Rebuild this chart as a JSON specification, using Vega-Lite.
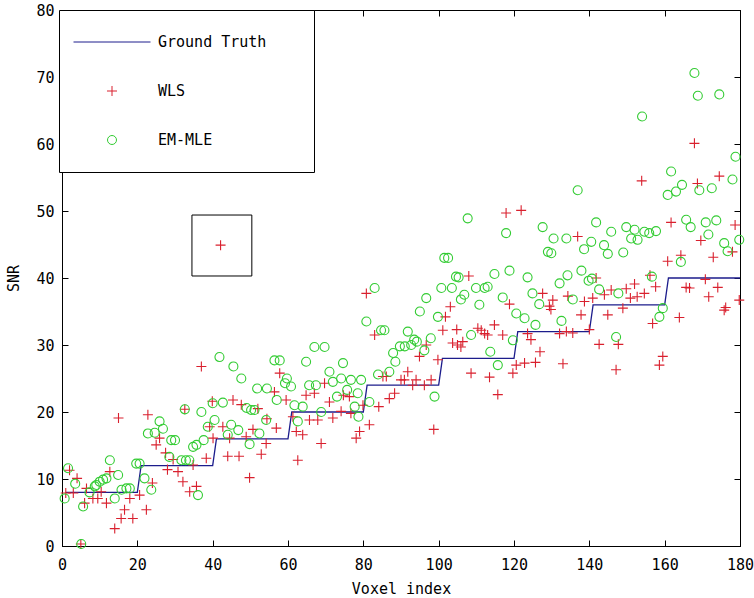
{
  "$schema": "https://vega.github.io/schema/vega-lite/v6.json",
  "autosize": {"type": "none"},
  "width": 678,
  "height": 536,
  "padding": {"left": 62, "top": 10, "right": 14, "bottom": 52},
  "background": "white",
  "datasets": {
    "truth": [
      {"v":1,"snr":8},{"v":20,"snr":8},{"v":21,"snr":12},{"v":40,"snr":12},{"v":41,"snr":16},{"v":60,"snr":16},
      {"v":61,"snr":20},{"v":80,"snr":20},{"v":81,"snr":24},{"v":100,"snr":24},{"v":101,"snr":28},{"v":120,"snr":28},
      {"v":121,"snr":32},{"v":140,"snr":32},{"v":141,"snr":36},{"v":160,"snr":36},{"v":161,"snr":40},{"v":180,"snr":40}
    ],
    "wls": [
      {"v":1,"snr":7.9},{"v":2,"snr":11.3},{"v":3,"snr":7.9},{"v":4,"snr":10.1},{"v":5,"snr":0.3},{"v":6,"snr":6.4},{"v":6.5,"snr":8.6},{"v":8.2,"snr":7.1},{"v":9.5,"snr":7.1},{"v":10.4,"snr":8.1},{"v":11.8,"snr":6.4},{"v":12.7,"snr":11.1},{"v":14,"snr":2.6},{"v":15,"snr":19.1},{"v":15.7,"snr":4.1},{"v":16.6,"snr":5.4},{"v":18,"snr":7.1},{"v":18.8,"snr":4.1},
      {"v":20.6,"snr":7.6},{"v":22.4,"snr":5.4},{"v":22.8,"snr":19.6},{"v":24,"snr":9.4},{"v":25,"snr":15.1},{"v":25.9,"snr":16.1},{"v":27.5,"snr":13.9},{"v":28,"snr":11.4},{"v":29.5,"snr":12.9},{"v":30.8,"snr":11.1},{"v":32.1,"snr":9.6},{"v":32.6,"snr":20.4},{"v":33.9,"snr":8.1},{"v":34.8,"snr":12.1},{"v":35.7,"snr":8.9},{"v":37,"snr":26.8},{"v":38.3,"snr":13.1},{"v":39.2,"snr":17.8},{"v":39.9,"snr":21.6},
      {"v":40.1,"snr":16.1},{"v":42.1,"snr":44.9},{"v":42.7,"snr":17.8},{"v":44,"snr":13.4},{"v":44.5,"snr":16.1},{"v":45.4,"snr":21.8},{"v":47,"snr":13.4},{"v":47.6,"snr":21.1},{"v":48.9,"snr":16.3},{"v":49.8,"snr":10.2},{"v":50.7,"snr":17.4},{"v":52,"snr":20.5},{"v":52.9,"snr":13.7},{"v":54.2,"snr":15.3},{"v":54.4,"snr":19},{"v":56.4,"snr":23},{"v":56.9,"snr":17.6},{"v":57.8,"snr":25.8},{"v":59.5,"snr":21.8},
      {"v":61.3,"snr":19.3},{"v":62.2,"snr":17.1},{"v":62.6,"snr":12.8},{"v":63.9,"snr":16.6},{"v":64.8,"snr":22.5},{"v":65.7,"snr":18.8},{"v":67,"snr":22.8},{"v":67.9,"snr":18.8},{"v":68.8,"snr":15.3},{"v":69.7,"snr":24.3},{"v":71,"snr":21.5},{"v":71.9,"snr":19.1},{"v":74.1,"snr":20.1},{"v":74.7,"snr":22.5},{"v":76.3,"snr":22.3},{"v":76.7,"snr":19.8},{"v":78.1,"snr":16.1},{"v":79,"snr":17.1},{"v":79.9,"snr":21},
      {"v":80.8,"snr":37.7},{"v":81.6,"snr":18.1},{"v":83,"snr":31.5},{"v":84.1,"snr":20.8},{"v":85.2,"snr":25.3},{"v":86.1,"snr":25.3},{"v":86.9,"snr":22},{"v":88.3,"snr":22.8},{"v":90,"snr":24.8},{"v":90.9,"snr":24.8},{"v":91.8,"snr":26},{"v":93.1,"snr":24},{"v":94,"snr":24.8},{"v":94.9,"snr":28.3},{"v":96.2,"snr":24},{"v":96.7,"snr":30},{"v":98,"snr":24.8},{"v":98.7,"snr":17.4},{"v":99.8,"snr":27.8},
      {"v":101.1,"snr":32.2},{"v":101.8,"snr":34.2},{"v":103.1,"snr":35.7},{"v":103.7,"snr":30.3},{"v":104.8,"snr":32.3},{"v":105,"snr":30},{"v":105.9,"snr":29.7},{"v":106.4,"snr":30.5},{"v":108,"snr":40.3},{"v":108.6,"snr":25.8},{"v":110.4,"snr":32.5},{"v":111.3,"snr":32.2},{"v":112.2,"snr":31.7},{"v":113,"snr":31.5},{"v":113.5,"snr":25.2},{"v":114.8,"snr":33},{"v":115.7,"snr":22.6},{"v":117,"snr":31.5},{"v":117.9,"snr":49.7},{"v":118.8,"snr":36.1},{"v":119.7,"snr":25.8},
      {"v":120.6,"snr":27},{"v":121.9,"snr":50.1},{"v":122.8,"snr":27.3},{"v":123.6,"snr":31.7},{"v":124.5,"snr":30.8},{"v":125.7,"snr":27.4},{"v":126.9,"snr":29},{"v":127.6,"snr":37.7},{"v":129.4,"snr":35.8},{"v":129.8,"snr":35.3},{"v":130.3,"snr":36.7},{"v":132.1,"snr":31.7},{"v":133,"snr":27.2},{"v":133.9,"snr":32},{"v":134.3,"snr":37.3},{"v":135.6,"snr":31.8},{"v":136.9,"snr":46.2},{"v":137.8,"snr":34.5},{"v":138.7,"snr":36.5},{"v":140,"snr":32.3},
      {"v":140.9,"snr":37},{"v":141.8,"snr":40},{"v":142.6,"snr":30.1},{"v":144,"snr":37.5},{"v":144.9,"snr":34.5},{"v":145.8,"snr":38.2},{"v":147.1,"snr":26.3},{"v":147.7,"snr":30.1},{"v":148.9,"snr":35.5},{"v":149.8,"snr":38.4},{"v":150.9,"snr":37},{"v":152,"snr":39.1},{"v":152.7,"snr":37.2},{"v":153.9,"snr":54.5},{"v":154.6,"snr":37.7},{"v":156.1,"snr":40.4},{"v":156.8,"snr":33.2},{"v":157.6,"snr":38.7},{"v":158.6,"snr":27},{"v":159.5,"snr":28.3},
      {"v":160.8,"snr":42.5},{"v":161.7,"snr":48.3},{"v":163.9,"snr":34.1},{"v":164.3,"snr":43.4},{"v":165.7,"snr":38.6},{"v":166.6,"snr":38.5},{"v":167.9,"snr":60.1},{"v":168.7,"snr":54.1},{"v":169.6,"snr":45.6},{"v":170.8,"snr":39.8},{"v":171.7,"snr":37.2},{"v":172.9,"snr":43.1},{"v":174.1,"snr":38.6},{"v":174.5,"snr":55.2},{"v":175.8,"snr":35.2},{"v":176.2,"snr":35.6},{"v":178,"snr":43.9},{"v":178.7,"snr":47.9},{"v":179.8,"snr":36.7}
    ],
    "em": [
      {"v":0.7,"snr":7.1},{"v":1.6,"snr":11.6},{"v":3.5,"snr":9.3},{"v":5.1,"snr":0.3},{"v":5.6,"snr":5.9},{"v":7.3,"snr":8},{"v":8.7,"snr":8.9},{"v":9.1,"snr":9.1},{"v":10,"snr":9.6},{"v":10.9,"snr":9.9},{"v":11.8,"snr":10.1},{"v":12.7,"snr":12.8},{"v":14,"snr":7.1},{"v":14.9,"snr":10.6},{"v":15.8,"snr":8.4},{"v":17.1,"snr":8.6},{"v":18,"snr":8.6},{"v":19.7,"snr":12.3},
      {"v":20.6,"snr":12.3},{"v":21.9,"snr":10.1},{"v":22.8,"snr":16.8},{"v":23.7,"snr":8.4},{"v":24.6,"snr":16.9},{"v":25.9,"snr":18.6},{"v":26.8,"snr":17.5},{"v":28.5,"snr":13.3},{"v":29,"snr":15.8},{"v":30,"snr":15.8},{"v":31.7,"snr":12.8},{"v":32.6,"snr":20.4},{"v":32.9,"snr":12.8},{"v":33.8,"snr":12.8},{"v":34.8,"snr":14.8},{"v":35.7,"snr":15.1},{"v":36.1,"snr":7.6},{"v":37,"snr":20},{"v":37.6,"snr":15.8},{"v":38.7,"snr":17.8},{"v":40,"snr":21.3},
      {"v":40.5,"snr":18.8},{"v":41.8,"snr":28.2},{"v":42.7,"snr":21.4},{"v":44,"snr":16.6},{"v":44.9,"snr":18.1},{"v":45.5,"snr":26.8},{"v":46.8,"snr":17.3},{"v":47.6,"snr":25},{"v":49,"snr":20.6},{"v":49.8,"snr":15.2},{"v":50.2,"snr":20.3},{"v":51.1,"snr":20.3},{"v":51.8,"snr":23.5},{"v":52.4,"snr":16.8},{"v":54.2,"snr":18.8},{"v":54.4,"snr":23.5},{"v":56.4,"snr":27.7},{"v":57,"snr":21.8},{"v":57.8,"snr":27.7},{"v":59.2,"snr":24.3},{"v":59.7,"snr":25},
      {"v":60.8,"snr":23.8},{"v":61.7,"snr":21},{"v":62.6,"snr":18.6},{"v":63.9,"snr":20.8},{"v":64.8,"snr":27.5},{"v":65.6,"snr":24},{"v":67,"snr":29.7},{"v":67.4,"snr":24},{"v":68.8,"snr":20},{"v":69.7,"snr":29.7},{"v":71,"snr":26},{"v":71.9,"snr":24.5},{"v":73,"snr":22.3},{"v":74.1,"snr":25},{"v":74.6,"snr":27.3},{"v":75.7,"snr":23.3},{"v":76.7,"snr":24.8},{"v":77.7,"snr":20.8},{"v":78.5,"snr":22.8},{"v":78.7,"snr":19.3},{"v":79.4,"snr":24.8},
      {"v":80.8,"snr":33.5},{"v":81.6,"snr":21.5},{"v":83,"snr":38.5},{"v":83.9,"snr":25.6},{"v":84.7,"snr":32.2},{"v":85.6,"snr":32.2},{"v":86.9,"snr":26},{"v":87.9,"snr":28.8},{"v":88.5,"snr":27.5},{"v":89.7,"snr":29.8},{"v":91,"snr":29.8},{"v":91.8,"snr":32},{"v":92.7,"snr":30},{"v":93.5,"snr":30.8},{"v":94.2,"snr":30.5},{"v":95,"snr":35},{"v":96.2,"snr":29.2},{"v":96.7,"snr":37},{"v":97.9,"snr":31},{"v":98.9,"snr":22.3},{"v":99.8,"snr":34.2},
      {"v":100.7,"snr":38.5},{"v":101.5,"snr":43},{"v":102.5,"snr":43},{"v":103.5,"snr":38.5},{"v":104.6,"snr":40.2},{"v":105.3,"snr":40.1},{"v":105.9,"snr":36.8},{"v":106.8,"snr":37.5},{"v":107.7,"snr":48.9},{"v":108.6,"snr":31.5},{"v":109.9,"snr":38.5},{"v":110.8,"snr":36},{"v":112.2,"snr":38.5},{"v":113,"snr":38.7},{"v":113.7,"snr":29},{"v":114.8,"snr":40.6},{"v":115.7,"snr":27},{"v":117,"snr":37.1},{"v":117.9,"snr":46.7},{"v":118.8,"snr":41.1},{"v":119.7,"snr":30.7},
      {"v":120.6,"snr":34.7},{"v":122.8,"snr":34},{"v":123.6,"snr":40.1},{"v":124.9,"snr":37.7},{"v":125.7,"snr":33},{"v":126.7,"snr":36.1},{"v":127.6,"snr":47.6},{"v":129,"snr":43.9},{"v":129.9,"snr":43.7},{"v":130.5,"snr":45.9},{"v":132.1,"snr":39.2},{"v":132.6,"snr":33.6},{"v":133.9,"snr":45.9},{"v":134.2,"snr":40.4},{"v":135.6,"snr":36.8},{"v":136.9,"snr":53.1},{"v":137.9,"snr":41.1},{"v":138.6,"snr":44.3},{"v":139.8,"snr":39.6},
      {"v":140.5,"snr":45.4},{"v":140.7,"snr":39.9},{"v":141.8,"snr":48.3},{"v":142.6,"snr":38.3},{"v":143.9,"snr":44.9},{"v":144.9,"snr":43.6},{"v":145.8,"snr":46.9},{"v":147.1,"snr":31.2},{"v":147.7,"snr":37.7},{"v":149,"snr":43.8},{"v":149.8,"snr":47.6},{"v":151.1,"snr":45.9},{"v":152,"snr":47.2},{"v":152.8,"snr":45.7},{"v":154,"snr":64.1},{"v":154.6,"snr":46.9},{"v":155.9,"snr":46.7},{"v":156.6,"snr":40.2},{"v":157.7,"snr":47},{"v":158.6,"snr":34.2},{"v":159.5,"snr":35.5},
      {"v":160.8,"snr":52.4},{"v":161.7,"snr":55.9},{"v":163,"snr":52.9},{"v":164.3,"snr":42.4},{"v":164.6,"snr":53.9},{"v":165.7,"snr":48.7},{"v":166.9,"snr":47.6},{"v":167.9,"snr":70.6},{"v":168.8,"snr":67.2},{"v":169.2,"snr":53.1},{"v":170.9,"snr":48.3},{"v":171.6,"snr":46.5},{"v":172.5,"snr":53.4},{"v":173.7,"snr":48.6},{"v":174.5,"snr":67.4},{"v":175.8,"snr":45.2},{"v":176.7,"snr":44},{"v":178,"snr":54.7},{"v":178.8,"snr":58.1},{"v":179.8,"snr":45.7}
    ],
    "box": [{"x1": 34.5, "x2": 50.4, "y1": 40.3, "y2": 49.4}]
  },
  "layer": [
    {
      "data": {"name": "truth"},
      "mark": {"type": "line", "strokeWidth": 1.3},
      "encoding": {
        "x": {"field": "v", "type": "quantitative", "scale": {"domain": [0, 180], "nice": false, "zero": false},
              "axis": {"title": "Voxel index", "values": [0,20,40,60,80,100,120,140,160,180], "labelPadding": 17, "titlePadding": 9}},
        "y": {"field": "snr", "type": "quantitative", "scale": {"domain": [0, 80], "nice": false},
              "axis": {"title": "SNR", "values": [0,10,20,30,40,50,60,70,80], "labelPadding": 14, "titlePadding": 14}},
        "color": {"datum": "Ground Truth", "type": "nominal",
                  "scale": {"domain": ["Ground Truth", "WLS", "EM-MLE"], "range": ["#1c1c8c", "#d9202e", "#33cc33"]},
                  "legend": {"title": null, "labelLimit": 400, "labelExpr": "datum.label + '\u2800\u2800\u2800'",
                    "encode": {"symbols": {"update": {"fill": {"value": "transparent"}, "stroke": {"scale": "color", "field": "value"}, "shape": {"scale": "shape", "field": "value"}, "size": {"value": 5929}, "strokeWidth": {"value": 1}, "opacity": {"value": 1}}}}}}
      }
    },
    {
      "data": {"name": "wls"},
      "mark": {"type": "point", "filled": false, "size": 5929, "strokeWidth": 1.1, "opacity": 1},
      "encoding": {
        "x": {"field": "v", "type": "quantitative",
              "axis": {"orient": "top", "labels": false, "title": null, "values": [0,20,40,60,80,100,120,140,160,180]}},
        "y": {"field": "snr", "type": "quantitative",
              "axis": {"orient": "right", "labels": false, "title": null, "values": [0,10,20,30,40,50,60,70,80]}},
        "color": {"datum": "WLS", "type": "nominal", "legend": {"title": null, "labelLimit": 400, "labelExpr": "datum.label + '\u2800\u2800\u2800'",
                    "encode": {"symbols": {"update": {"fill": {"value": "transparent"}, "stroke": {"scale": "color", "field": "value"}, "shape": {"scale": "shape", "field": "value"}, "size": {"value": 5929}, "strokeWidth": {"value": 1}, "opacity": {"value": 1}}}}}},
        "shape": {"datum": "WLS", "type": "nominal",
                  "scale": {"domain": ["Ground Truth", "WLS", "EM-MLE"],
                            "range": ["M-1,0H1", "M-0.13,0H0.13M0,-0.13V0.13", "M0.117,0A0.117,0.117,0,1,1,-0.117,0A0.117,0.117,0,1,1,0.117,0Z"]},
                  "legend": {"title": null, "labelLimit": 400, "labelExpr": "datum.label + '\u2800\u2800\u2800'",
                    "encode": {"symbols": {"update": {"fill": {"value": "transparent"}, "stroke": {"scale": "color", "field": "value"}, "shape": {"scale": "shape", "field": "value"}, "size": {"value": 5929}, "strokeWidth": {"value": 1}, "opacity": {"value": 1}}}}}}
      }
    },
    {
      "data": {"name": "em"},
      "mark": {"type": "point", "filled": false, "size": 5929, "strokeWidth": 1.1, "opacity": 1},
      "encoding": {
        "x": {"field": "v", "type": "quantitative", "axis": null},
        "y": {"field": "snr", "type": "quantitative", "axis": null},
        "color": {"datum": "EM-MLE", "type": "nominal"},
        "shape": {"datum": "EM-MLE", "type": "nominal"}
      }
    },
    {
      "data": {"name": "box"},
      "mark": {"type": "rect", "filled": false, "color": "black", "strokeWidth": 1, "opacity": 1},
      "encoding": {
        "x": {"field": "x1", "type": "quantitative", "axis": null},
        "x2": {"field": "x2"},
        "y": {"field": "y1", "type": "quantitative", "axis": null},
        "y2": {"field": "y2"}
      }
    }
  ],
  "resolve": {"axis": {"x": "independent", "y": "independent"}},
  "config": {
    "view": {"stroke": "black", "strokeWidth": 1},
    "axis": {"grid": false, "domainColor": "black", "tickColor": "black", "tickSize": -6, "domainWidth": 1, "tickWidth": 1, "labelFlush": false,
             "labelFont": "DejaVu Sans Mono", "labelFontSize": 15, "labelColor": "black",
             "titleFont": "DejaVu Sans Mono", "titleFontSize": 15, "titleFontWeight": "normal", "titleColor": "black"},
    "legend": {"orient": "none", "legendX": -3, "legendY": 0, "padding": 14, "clipHeight": 36, "rowPadding": 13,
               "symbolSize": 5929, "labelOffset": 7, "symbolOffset": 0, "labelFont": "DejaVu Sans Mono", "labelFontSize": 15, "labelLimit": 400,
               "labelColor": "black", "strokeColor": "black", "fillColor": "white", "symbolStrokeWidth": 1, "cornerRadius": 0}
  }
}
